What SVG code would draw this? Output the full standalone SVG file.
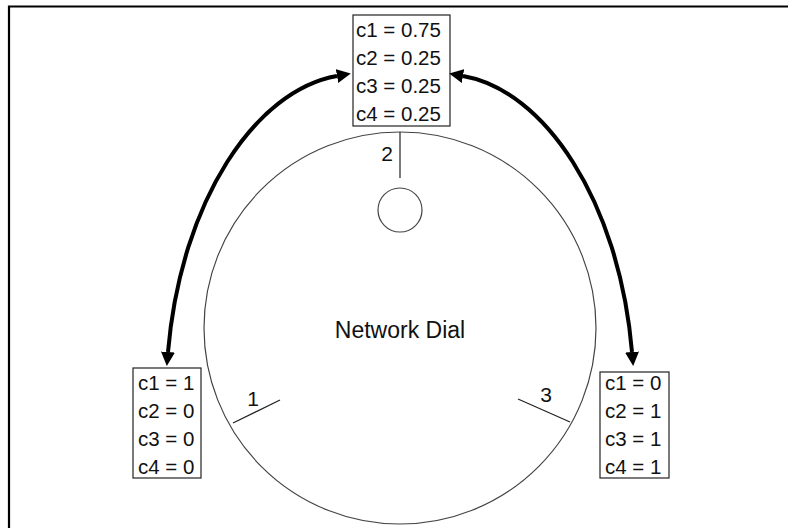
<svg xmlns="http://www.w3.org/2000/svg" width="788" height="528" viewBox="0 0 788 528">
  <style>
    .frame { stroke: #000; stroke-width: 2.2; fill: none; }
    .box { fill: #fff; stroke: #222; stroke-width: 1.2; }
    .dial { fill: none; stroke: #444; stroke-width: 1.2; }
    .tick { stroke: #222; stroke-width: 1.2; fill: none; }
    .val { font-family: "Liberation Sans", Arial, sans-serif; font-size: 20.5px; fill: #111; }
    .num { font-family: "Liberation Sans", Arial, sans-serif; font-size: 21px; fill: #111; text-anchor: middle; }
    .title { font-family: "Liberation Sans", Arial, sans-serif; font-size: 23px; fill: #111; text-anchor: middle; }
    .link { fill: none; stroke: #000; stroke-width: 4; marker-start: url(#head); marker-end: url(#head); }
  </style>
  <defs>
    <marker id="head" markerUnits="userSpaceOnUse" markerWidth="14" markerHeight="14" refX="0" refY="7" orient="auto-start-reverse" viewBox="0 0 14 14">
      <path d="M0,0 L14,7 L0,14 z" fill="#000"/>
    </marker>
  </defs>

  <!-- outer frame (top and left edges) -->
  <path class="frame" d="M9,528 V6.5 H788"/>

  <!-- the dial -->
  <g id="dial">
    <circle class="dial" cx="400" cy="328" r="196"/>
    <text class="title" x="400" y="338">Network Dial</text>
  </g>

  <!-- pointer at position 2 with knob -->
  <g id="pos2">
    <line class="tick" x1="400" y1="132" x2="400" y2="178"/>
    <circle class="dial" cx="400" cy="210" r="22"/>
    <text class="num" x="387" y="161">2</text>
  </g>

  <g id="pos1">
    <line class="tick" x1="233" y1="423" x2="280" y2="400"/>
    <text class="num" x="253" y="406">1</text>
  </g>

  <g id="pos3">
    <line class="tick" x1="518" y1="399" x2="570" y2="422"/>
    <text class="num" x="546" y="402">3</text>
  </g>

  <!-- value boxes -->
  <g id="box-top">
    <rect class="box" x="353" y="15" width="97" height="111"/>
    <text class="val" x="356" y="37">c1 = 0.75</text>
    <text class="val" x="356" y="65">c2 = 0.25</text>
    <text class="val" x="356" y="93">c3 = 0.25</text>
    <text class="val" x="356" y="121">c4 = 0.25</text>
  </g>

  <g id="box-left">
    <rect class="box" x="133" y="368" width="68" height="110"/>
    <text class="val" x="138" y="390">c1 = 1</text>
    <text class="val" x="138" y="418">c2 = 0</text>
    <text class="val" x="138" y="446">c3 = 0</text>
    <text class="val" x="138" y="474">c4 = 0</text>
  </g>

  <g id="box-right">
    <rect class="box" x="600" y="372" width="69" height="106"/>
    <text class="val" x="605" y="390">c1 = 0</text>
    <text class="val" x="605" y="418">c2 = 1</text>
    <text class="val" x="605" y="446">c3 = 1</text>
    <text class="val" x="605" y="474">c4 = 1</text>
  </g>

  <!-- curved double-headed connectors -->
  <g id="connectors">
    <path class="link" d="M168,352 C181,200 256,90 337,76"/>
    <path class="link" d="M632,352 C619,200 544,90 463,76"/>
  </g>
</svg>
